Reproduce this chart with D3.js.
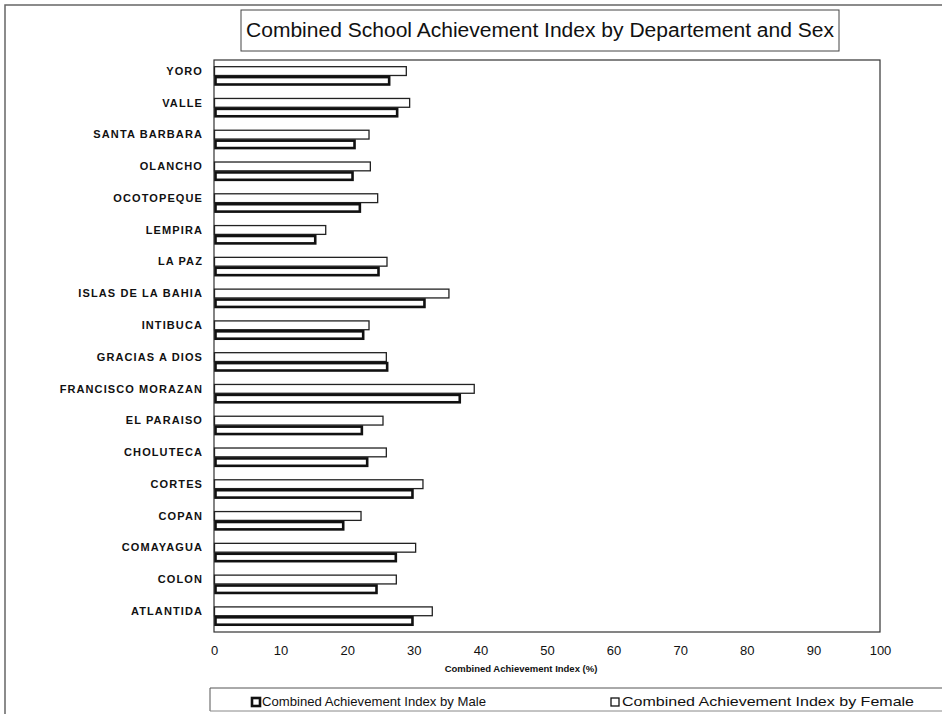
<!DOCTYPE html>
<html>
<head>
<meta charset="utf-8">
<script src="https://cdn.jsdelivr.net/npm/d3@7"></script>
<style>
  html, body { margin: 0; padding: 0; background: #fff; }
  svg { display: block; font-family: "Liberation Sans", Arial, sans-serif; }
</style>
</head>
<body>
<svg id="chart" width="942" height="714"></svg>
<script>
// Departments, listed top to bottom
const departments = [
  "YORO", "VALLE", "SANTA BARBARA", "OLANCHO", "OCOTOPEQUE", "LEMPIRA",
  "LA PAZ", "ISLAS DE LA BAHIA", "INTIBUCA", "GRACIAS A DIOS",
  "FRANCISCO MORAZAN", "EL PARAISO", "CHOLUTECA", "CORTES", "COPAN",
  "COMAYAGUA", "COLON", "ATLANTIDA"
];
// Combined achievement index (%) by sex, same order as departments
const femaleIndex = [28.8, 29.3, 23.2, 23.4, 24.5, 16.7, 25.9, 35.2, 23.2, 25.8, 39.0, 25.3, 25.8, 31.3, 22.0, 30.2, 27.3, 32.7];
const maleIndex   = [26.3, 27.5, 21.1, 20.8, 21.9, 15.2, 24.7, 31.6, 22.4, 26.0, 36.9, 22.2, 23.0, 29.8, 19.4, 27.3, 24.4, 29.8];
const seriesNames = ["Female", "Male"];
const xTicks = [0, 10, 20, 30, 40, 50, 60, 70, 80, 90, 100];
const titleText = "Combined School Achievement Index by Departement and Sex";
const xAxisTitle = "Combined Achievement Index (%)";
const legendLabels = ["Combined Achievement Index by Male", "Combined Achievement Index by Female"];

const svg = d3.select("#chart");
const plot = { left: 214, right: 880, top: 60, bottom: 632 };

// outer frame
svg.append("rect")
  .attr("x", 5).attr("y", 5).attr("width", 960).attr("height", 720)
  .attr("fill", "none").attr("stroke", "#666").attr("stroke-width", 1.5);

// title box
const titleG = svg.append("g");
titleG.append("rect")
  .attr("x", 241).attr("y", 10).attr("width", 598).attr("height", 41)
  .attr("fill", "#fff").attr("stroke", "#444").attr("stroke-width", 1);
titleG.append("text")
  .attr("x", 246).attr("y", 37)
  .attr("font-size", 19.5)
  .attr("textLength", 588)
  .attr("lengthAdjust", "spacingAndGlyphs")
  .attr("fill", "#111")
  .text(titleText);

const x = d3.scaleLinear().domain([0, 100]).range([plot.left, plot.right]);
const y = d3.scaleBand().domain(departments).range([plot.top, plot.bottom])
  .paddingInner(0.37).paddingOuter(0.185);
const ySub = d3.scaleBand().domain(seriesNames).range([0, y.bandwidth()]);

const rows = departments.map((d, i) => ({ dept: d, Female: femaleIndex[i], Male: maleIndex[i] }));

// plot frame
svg.append("rect")
  .attr("x", plot.left).attr("y", plot.top)
  .attr("width", plot.right - plot.left).attr("height", plot.bottom - plot.top)
  .attr("fill", "none").attr("stroke", "#333").attr("stroke-width", 1.2);

// bars
const groups = svg.append("g").selectAll("g")
  .data(rows).join("g")
  .attr("transform", d => `translate(0,${y(d.dept)})`);

groups.append("rect")
  .attr("x", x(0) + 0.5)
  .attr("y", ySub("Female") + 0.8)
  .attr("width", d => x(d.Female) - x(0))
  .attr("height", ySub.bandwidth() - 1.2)
  .attr("fill", "#fff").attr("stroke", "#222").attr("stroke-width", 1.3);

groups.append("rect")
  .attr("x", x(0) + 1.5)
  .attr("y", ySub("Male") + 1.2)
  .attr("width", d => x(d.Male) - x(0) - 1.5)
  .attr("height", ySub.bandwidth() - 2.6)
  .attr("fill", "#fff").attr("stroke", "#111").attr("stroke-width", 2.6);

// department labels
svg.append("g").selectAll("text")
  .data(departments).join("text")
  .attr("x", 203)
  .attr("y", d => y(d) + y.step() * 0.315 - 4)
  .attr("text-anchor", "end")
  .attr("dominant-baseline", "middle")
  .attr("font-size", 11)
  .attr("font-weight", "bold")
  .attr("letter-spacing", 1.1)
  .attr("fill", "#111")
  .text(d => d);

// x axis
const xAxis = d3.axisBottom(x).tickValues(xTicks).tickSize(0).tickPadding(0);
const axisG = svg.append("g")
  .attr("transform", `translate(0,${plot.bottom})`)
  .call(xAxis);
axisG.select(".domain").remove();
axisG.selectAll("text")
  .attr("y", 14)
  .attr("font-size", 13)
  .attr("font-family", "'Liberation Sans', Arial, sans-serif")
  .attr("fill", "#111");

svg.append("text")
  .attr("x", 521).attr("y", 672)
  .attr("text-anchor", "middle")
  .attr("font-size", 9.5)
  .attr("font-weight", "bold")
  .attr("fill", "#111")
  .text(xAxisTitle);

// legend
const legendG = svg.append("g");
legendG.append("path")
  .attr("d", "M210,711 L210,688 L945,688")
  .attr("fill", "none").attr("stroke", "#555").attr("stroke-width", 1);
legendG.append("path")
  .attr("d", "M210,711 L945,711")
  .attr("fill", "none").attr("stroke", "#888").attr("stroke-width", 1);

const legendItems = [
  { label: legendLabels[0], mx: 252, tx: 262, len: 224, male: true },
  { label: legendLabels[1], mx: 611, tx: 622, len: 292, male: false }
];
legendItems.forEach(it => {
  legendG.append("rect")
    .attr("x", it.mx).attr("y", 698).attr("width", 8).attr("height", 8)
    .attr("fill", "#fff")
    .attr("stroke", "#111").attr("stroke-width", it.male ? 2.6 : 1.3);
  legendG.append("text")
    .attr("x", it.tx).attr("y", 706)
    .attr("font-size", 13)
    .attr("textLength", it.len)
    .attr("lengthAdjust", "spacingAndGlyphs")
    .attr("fill", "#111")
    .text(it.label);
});
</script>
</body>
</html>
